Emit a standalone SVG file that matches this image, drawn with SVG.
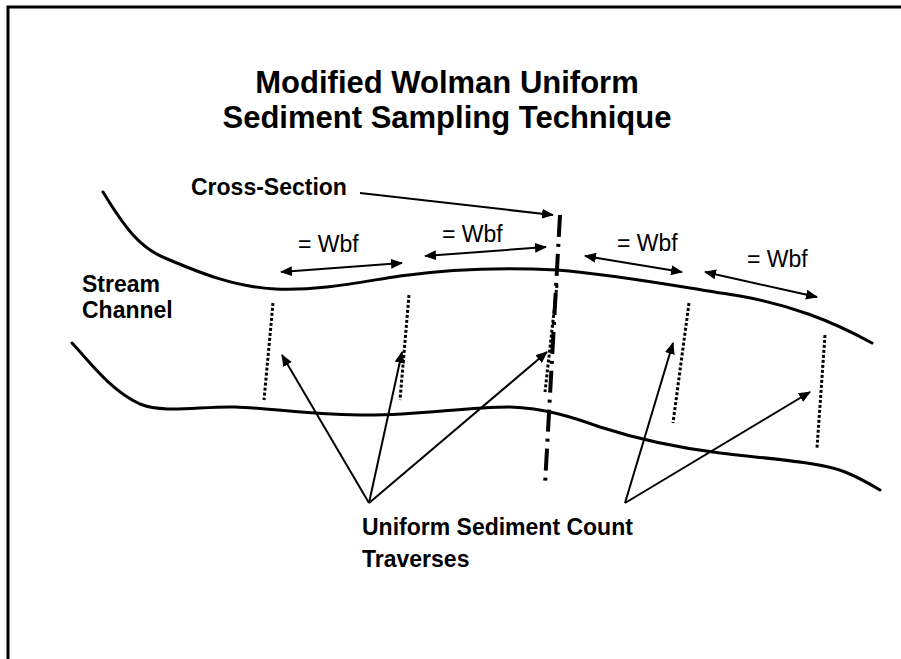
<svg xmlns="http://www.w3.org/2000/svg" width="901" height="659" viewBox="0 0 901 659">
<style>
text{font-family:"Liberation Sans",Arial,sans-serif;fill:#000}
.b{font-weight:bold;font-size:23px}
.r{font-size:23px}
.t{font-weight:bold;font-size:31px}
.bank{fill:none;stroke:#000;stroke-width:3;stroke-linecap:round}
.trav{fill:none;stroke:#000;stroke-width:3;stroke-dasharray:3 2}
.arr{fill:none;stroke:#000;stroke-width:2}
</style>
<defs>
<marker id="ah" markerUnits="userSpaceOnUse" viewBox="0 0 12 10" refX="11" refY="5" markerWidth="12" markerHeight="10" orient="auto-start-reverse">
<path d="M0,0 L12,5 L0,10 Z" fill="#000"/>
</marker>
</defs>
<rect x="8" y="7" width="920" height="700" fill="none" stroke="#000" stroke-width="3"/>
<g id="title">
<text class="t" x="447" y="93" text-anchor="middle">Modified Wolman Uniform</text>
<text class="t" x="447" y="128" text-anchor="middle">Sediment Sampling Technique</text>
</g>
<g id="banks">
<path class="bank" d="M103,192 C125,228 140,248 165,258 C200,273 235,287 275,289 C320,291 360,282 400,276 C450,269 500,267 557,270 C620,275 680,287 740,296 C790,305 830,320 872,343"/>
<path class="bank" d="M72,343 C90,362 110,390 140,404 C165,414 200,406 235,407 C270,408 300,414 360,415 C420,416 460,407 510,407 C545,408 575,418 600,427 C640,440 680,448 720,453 C770,459 820,462 845,472 C860,478 870,484 880,490"/>
</g>
<g id="cross-section">
<line x1="560" y1="215" x2="545" y2="485" stroke="#000" stroke-width="4" stroke-dasharray="22 7 3 7"/>
</g>
<g id="traverses">
<line class="trav" x1="273" y1="303" x2="264" y2="400"/>
<line class="trav" x1="409" y1="295" x2="400" y2="400"/>
<line class="trav" x1="557" y1="285" x2="545" y2="392"/>
<line class="trav" x1="689" y1="303" x2="673" y2="423"/>
<line class="trav" x1="825" y1="335" x2="817" y2="448"/>
</g>
<g id="connectors">
<line class="arr" x1="360" y1="193" x2="553" y2="215" marker-end="url(#ah)"/>
<line class="arr" x1="281" y1="272" x2="402" y2="263" marker-start="url(#ah)" marker-end="url(#ah)"/>
<line class="arr" x1="425" y1="256" x2="546" y2="247" marker-start="url(#ah)" marker-end="url(#ah)"/>
<line class="arr" x1="585" y1="256" x2="682" y2="272" marker-start="url(#ah)" marker-end="url(#ah)"/>
<line class="arr" x1="705" y1="272" x2="817" y2="297" marker-start="url(#ah)" marker-end="url(#ah)"/>
<line class="arr" x1="369" y1="503" x2="282" y2="355" marker-end="url(#ah)"/>
<line class="arr" x1="369" y1="503" x2="402" y2="352" marker-end="url(#ah)"/>
<line class="arr" x1="369" y1="503" x2="547" y2="352" marker-end="url(#ah)"/>
<line class="arr" x1="625" y1="503" x2="673" y2="343" marker-end="url(#ah)"/>
<line class="arr" x1="625" y1="503" x2="810" y2="392" marker-end="url(#ah)"/>
</g>
<g id="labels">
<text class="b" x="191" y="195">Cross-Section</text>
<text class="r" x="298" y="252">= Wbf</text>
<text class="r" x="442" y="242">= Wbf</text>
<text class="r" x="617" y="251">= Wbf</text>
<text class="r" x="747" y="267">= Wbf</text>
<text class="b" x="82" y="292">Stream</text>
<text class="b" x="82" y="318">Channel</text>
<text class="b" x="362" y="535">Uniform Sediment Count</text>
<text class="b" x="362" y="567">Traverses</text>
</g>
</svg>
